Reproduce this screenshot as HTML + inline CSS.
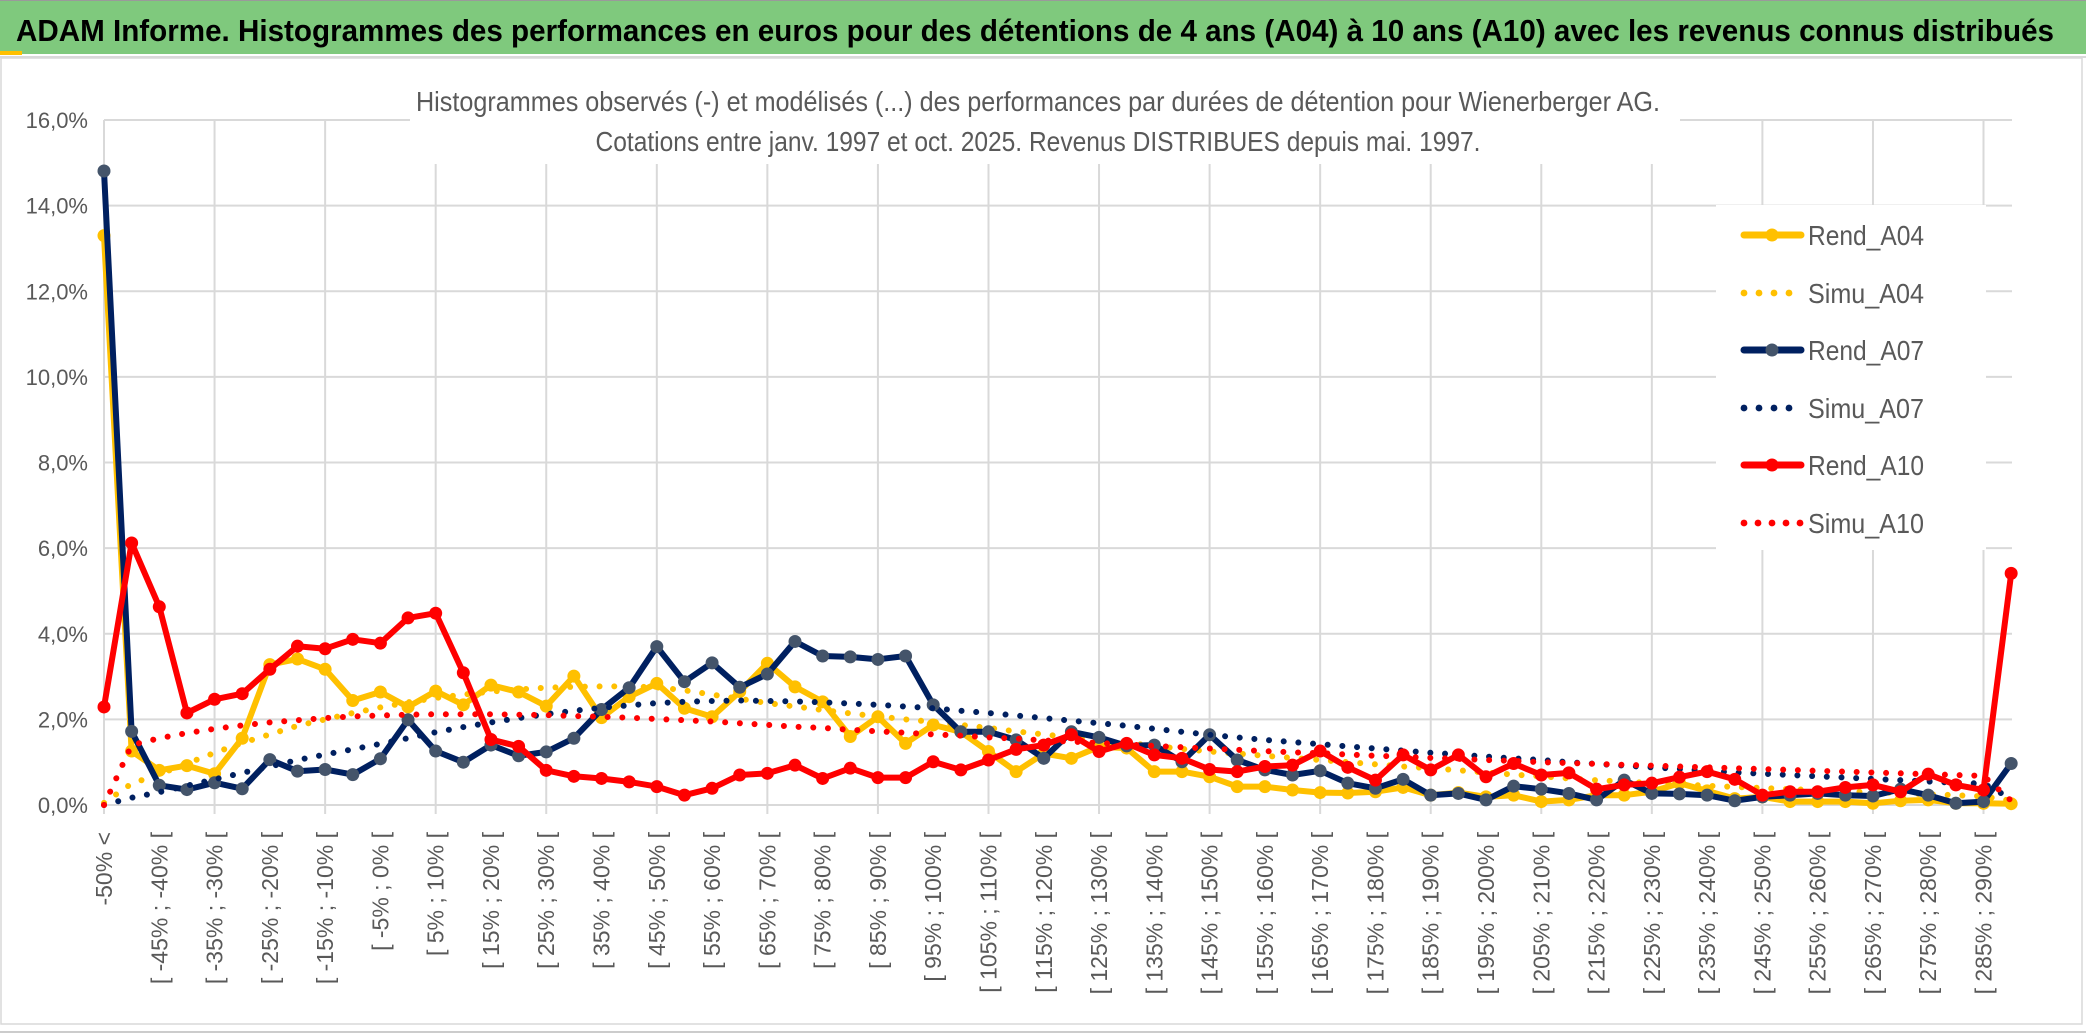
<!DOCTYPE html>
<html><head><meta charset="utf-8"><style>
html,body{margin:0;padding:0;background:#fff;}
svg{display:block;font-family:"Liberation Sans",sans-serif;}
</style></head><body>
<svg id="chart" width="2086" height="1033" viewBox="0 0 2086 1033" xmlns="http://www.w3.org/2000/svg">
<rect x="0" y="0" width="2086" height="1033" fill="#fff"/>
<rect x="0" y="0" width="2086" height="54" fill="#7fc97d"/>
<line x1="0" y1="0.5" x2="2086" y2="0.5" stroke="#9a9a9a" stroke-width="1"/>
<rect x="0" y="51" width="22" height="4" fill="#ffc000"/>
<line x1="0" y1="57" x2="2086" y2="57" stroke="#d9d9d9" stroke-width="2"/>
<text x="16" y="41" font-size="31" font-weight="bold" fill="#000" textLength="2038" lengthAdjust="spacingAndGlyphs">ADAM Informe. Histogrammes des performances en euros pour des détentions de 4 ans (A04) à 10 ans (A10) avec les revenus connus distribués</text>
<rect x="1" y="58" width="2081" height="966" fill="none" stroke="#d9d9d9" stroke-width="1.5"/>
<line x1="0" y1="1032" x2="2086" y2="1032" stroke="#9a9a9a" stroke-width="1"/>
<g id="grid"></g>
<rect x="410" y="62" width="1270" height="102" fill="#fff"/>
<text x="1038" y="111" font-size="28" font-weight="500" fill="#595959" text-anchor="middle" textLength="1244" lengthAdjust="spacingAndGlyphs">Histogrammes observés (-) et modélisés (...) des performances par durées de détention pour Wienerberger AG.</text>
<text x="1038" y="151" font-size="28" font-weight="500" fill="#595959" text-anchor="middle" textLength="885" lengthAdjust="spacingAndGlyphs">Cotations entre janv. 1997 et oct. 2025. Revenus DISTRIBUES depuis mai. 1997.</text>
<g id="yaxis"></g>
<g id="xaxis"></g>
<g id="series"></g>
<g id="legend"></g>
</svg>
<script>
const categoryStarts = [];
for (let i = 1; i < 70; i++) categoryStarts.push(-55 + 5 * i);
const categories = ["-50% <"].concat(categoryStarts.map(s => "[ " + s + "% ; " + (s + 5) + "% ["));
const yTicks = [0, 2, 4, 6, 8, 10, 12, 14, 16];
const yTickLabels = ["0,0%", "2,0%", "4,0%", "6,0%", "8,0%", "10,0%", "12,0%", "14,0%", "16,0%"];
const seriesNames = ["Rend_A04", "Simu_A04", "Rend_A07", "Simu_A07", "Rend_A10", "Simu_A10"];
const rendA04 = [13.3,1.26,0.81,0.92,0.73,1.56,3.28,3.41,3.17,2.44,2.64,2.29,2.66,2.34,2.8,2.64,2.31,3.01,2.04,2.53,2.84,2.26,2.06,2.65,3.31,2.76,2.41,1.6,2.06,1.44,1.87,1.71,1.25,0.78,1.2,1.09,1.36,1.33,0.78,0.78,0.66,0.43,0.43,0.35,0.29,0.28,0.31,0.41,0.23,0.29,0.19,0.23,0.08,0.12,0.23,0.23,0.31,0.51,0.33,0.15,0.19,0.08,0.08,0.08,0.04,0.1,0.12,0.04,0.04,0.03];
const simuA04 = [0.05,0.5,0.72,0.97,1.22,1.45,1.65,1.85,2.0,2.15,2.28,2.4,2.5,2.58,2.65,2.7,2.74,2.76,2.77,2.77,2.75,2.68,2.58,2.48,2.38,2.3,2.22,2.14,2.07,2.0,1.94,1.87,1.8,1.72,1.65,1.58,1.51,1.45,1.38,1.31,1.25,1.2,1.15,1.1,1.05,1.0,0.95,0.9,0.86,0.81,0.76,0.71,0.67,0.62,0.58,0.55,0.51,0.48,0.45,0.42,0.4,0.37,0.35,0.32,0.3,0.28,0.25,0.23,0.2,0.1];
const rendA07 = [14.81,1.72,0.46,0.36,0.52,0.38,1.06,0.79,0.83,0.71,1.08,1.99,1.26,1.0,1.4,1.15,1.24,1.56,2.23,2.74,3.7,2.88,3.32,2.75,3.06,3.82,3.48,3.46,3.4,3.48,2.34,1.71,1.71,1.52,1.09,1.71,1.58,1.38,1.4,1.01,1.64,1.05,0.82,0.7,0.8,0.51,0.39,0.6,0.23,0.27,0.12,0.44,0.37,0.27,0.12,0.58,0.27,0.26,0.23,0.1,0.19,0.23,0.27,0.23,0.21,0.37,0.23,0.04,0.08,0.97];
const simuA07 = [0.0,0.17,0.3,0.45,0.6,0.75,0.9,1.05,1.18,1.3,1.43,1.56,1.7,1.82,1.93,2.03,2.12,2.2,2.27,2.33,2.38,2.41,2.43,2.44,2.43,2.42,2.4,2.37,2.34,2.3,2.26,2.2,2.15,2.09,2.03,1.97,1.91,1.85,1.78,1.71,1.64,1.58,1.52,1.47,1.42,1.37,1.32,1.27,1.22,1.18,1.13,1.09,1.05,1.0,0.96,0.92,0.88,0.84,0.8,0.76,0.73,0.7,0.67,0.64,0.61,0.58,0.55,0.52,0.5,0.15];
const rendA10 = [2.29,6.12,4.63,2.15,2.47,2.6,3.17,3.71,3.65,3.87,3.78,4.37,4.48,3.09,1.53,1.37,0.81,0.67,0.62,0.54,0.43,0.23,0.39,0.7,0.74,0.93,0.62,0.86,0.64,0.64,1.01,0.82,1.05,1.3,1.4,1.64,1.25,1.44,1.17,1.09,0.83,0.78,0.9,0.93,1.26,0.88,0.58,1.17,0.82,1.17,0.66,0.97,0.7,0.75,0.37,0.47,0.51,0.65,0.78,0.6,0.23,0.31,0.31,0.41,0.47,0.31,0.72,0.47,0.35,5.41];
const simuA10 = [0.0,1.4,1.56,1.68,1.78,1.86,1.93,1.98,2.03,2.07,2.09,2.11,2.12,2.12,2.12,2.11,2.1,2.08,2.06,2.04,2.01,1.98,1.95,1.91,1.87,1.83,1.8,1.76,1.72,1.69,1.65,1.62,1.58,1.55,1.51,1.48,1.45,1.41,1.38,1.35,1.32,1.29,1.26,1.23,1.21,1.18,1.15,1.13,1.1,1.08,1.05,1.03,1.0,0.98,0.96,0.94,0.92,0.9,0.88,0.86,0.84,0.82,0.8,0.78,0.76,0.74,0.72,0.7,0.68,0.1];

const NS = "http://www.w3.org/2000/svg";
const X0 = 104, DX = 27.64, Y0 = 805, PERPCT = 42.81, XR = 2012;
function xPos(i) { return X0 + i * DX; }
function yPos(v) { return Y0 - v * PERPCT; }
function mk(tag, attrs, parent) {
  const e = document.createElementNS(NS, tag);
  for (const k in attrs) e.setAttribute(k, attrs[k]);
  parent.appendChild(e);
  return e;
}
const grid = document.getElementById("grid");
yTicks.forEach(function (t) {
  const l = mk("line", {x1: X0, x2: XR, y1: yPos(t), y2: yPos(t), stroke: "#d9d9d9", "stroke-width": 2}, grid);
  
  
});
for (let i = 0; i < categories.length; i += 4) {
  const l = mk("line", {x1: xPos(i), x2: xPos(i), y1: yPos(16), y2: Y0 + 9, stroke: "#d9d9d9", "stroke-width": 2}, grid);
  
  
}
const yaxis = document.getElementById("yaxis");
yTicks.forEach(function (t, k) {
  const tx = mk("text", {x: 88, y: yPos(t) + 8, "font-size": 22, fill: "#595959", "text-anchor": "end"}, yaxis);
  tx.textContent = yTickLabels[k];
  
  
});
const xaxis = document.getElementById("xaxis");
categories.forEach(function (c, i) {
  if (i % 2 !== 0) return;
  const x = xPos(i) + 8, y = 832;
  const tx = mk("text", {x: x, y: y, "font-size": 23, fill: "#595959", "text-anchor": "end", transform: "rotate(-90 " + x + " " + y + ")"}, xaxis);
  tx.textContent = c;
  
  
});
const seriesG = document.getElementById("series");
const seriesData = [rendA04, simuA04, rendA07, simuA07, rendA10, simuA10];
const lineColors = ["#ffc000", "#ffc000", "#002060", "#002060", "#ff0000", "#ff0000"];
const markerColors = ["#ffc000", null, "#44546a", null, "#ff0000", null];
seriesData.forEach(function (vals, s) {
  const pts = vals.map(function (v, i) { return xPos(i).toFixed(1) + "," + yPos(v).toFixed(1); }).join(" ");
  const solid = markerColors[s] !== null;
  const attrs = {points: pts, fill: "none", stroke: lineColors[s], "stroke-linejoin": "round", "stroke-linecap": "round", "stroke-width": 6};
  if (!solid) { attrs["stroke-dasharray"] = "0.01 14.7"; }
  const pl = mk("polyline", attrs, seriesG);
  
  
  if (solid) {
    vals.forEach(function (v, i) {
      const c = mk("circle", {cx: xPos(i), cy: yPos(v), r: 6.5, fill: markerColors[s]}, seriesG);
      
      
    });
  }
});
const legend = document.getElementById("legend");
const lbg = mk("rect", {x: 1716, y: 205, width: 270, height: 345, fill: "#fff"}, legend);


const legendY = [235, 293, 350, 408, 465, 523];
seriesNames.forEach(function (n, s) {
  const y = legendY[s];
  const solid = markerColors[s] !== null;
  const g = mk("g", {}, legend);
  
  
  if (solid) {
    mk("line", {x1: 1744, x2: 1801, y1: y, y2: y, stroke: lineColors[s], "stroke-width": 7, "stroke-linecap": "round"}, g);
    mk("circle", {cx: 1772, cy: y, r: 6.5, fill: markerColors[s]}, g);
  } else {
    const nd = s === 5 ? 5 : 4;
    for (let k = 0; k < nd; k++) mk("circle", {cx: 1744 + k * (s === 5 ? 14 : 15), cy: y, r: 3.4, fill: lineColors[s]}, g);
  }
  const tx = mk("text", {x: 1808, y: y + 10, "font-size": 28, fill: "#595959", textLength: 116, lengthAdjust: "spacingAndGlyphs"}, g);
  tx.textContent = n;
});
</script>
</body></html>
